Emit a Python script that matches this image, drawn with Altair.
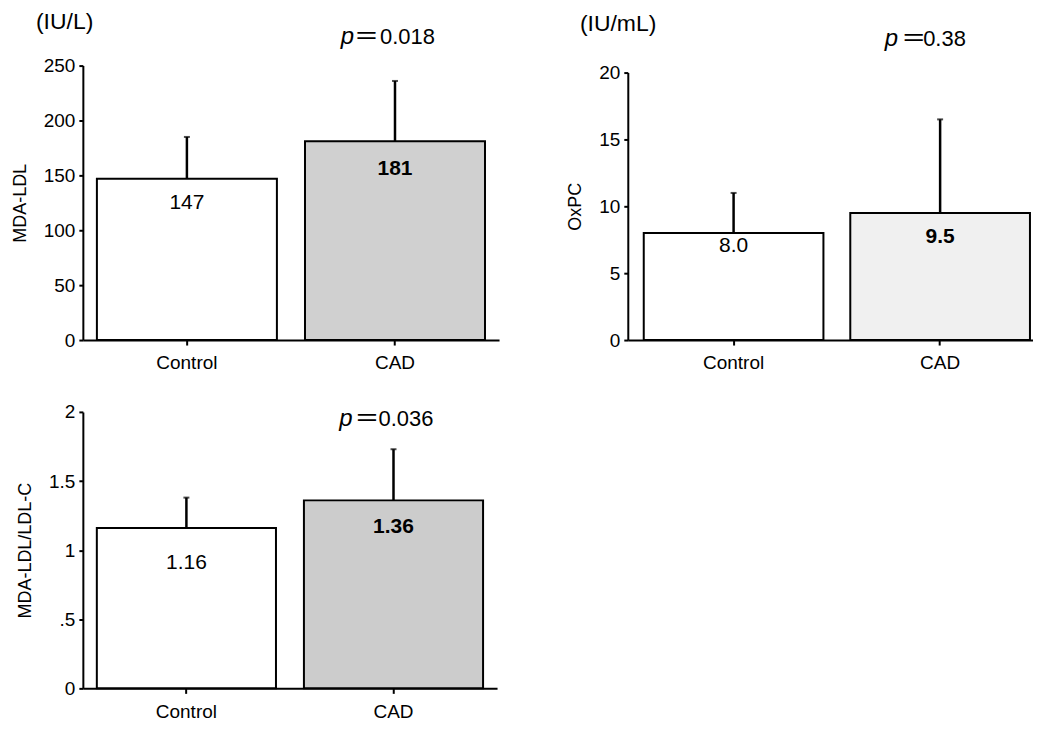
import altair as alt
import pandas as pd

groups = ["Control", "CAD"]
weights = ["normal", "bold"]

# Panel A: MDA-LDL (IU/L)
a_mean = [147, 181]
a_top = [185, 236]
a_label = ["147", "181"]
a_label_pos = [124.5, 156]
a_p_pos = 276
a_p_text = "0.018"

# Panel B: OxPC (IU/mL)
b_mean = [8.0, 9.5]
b_top = [11.0, 16.5]
b_label = ["8.0", "9.5"]
b_label_pos = [7.0, 7.7]
b_p_pos = 22.5
b_p_text = "0.38"

# Panel C: MDA-LDL/LDL-C
c_mean = [1.16, 1.36]
c_top = [1.38, 1.73]
c_label = ["1.16", "1.36"]
c_label_pos = [0.91, 1.17]
c_p_pos = 1.95
c_p_text = "0.036"

FONT = "Liberation Sans"
CJK = "Noto Sans CJK JP"


def panel(mean, top, labels, label_pos, ytitle, domain, ticks, cad_fill,
          p_pos, p_text, p_size, p_dx, width, height, yrange=None,
          title=None, title_dx=0, pin=0.135, pout=0.0675, palign=0.5):
    df = pd.DataFrame({
        "group": groups, "mean": mean, "top": top, "label": labels,
        "label_pos": label_pos, "weight": weights,
        "fill": ["#ffffff", cad_fill],
    })
    pdf = pd.DataFrame({"group": ["CAD"], "pos": [p_pos], "txt": [p_text]})
    x = alt.X("group:N", sort=groups,
              scale=alt.Scale(paddingInner=pin, paddingOuter=pout, align=palign),
              axis=alt.Axis(title=None, labelAngle=0, labelFontSize=19,
                            labelPadding=9, tickSize=5, ticks=True))
    yaxis = alt.Axis(values=ticks, title=ytitle, grid=False, tickSize=4,
                     labelFontSize=19, labelPadding=4, titlePadding=14,
                     titleFontSize=18, titleFontWeight="normal", titleFont=FONT,
                     labelExpr="datum.value == 0.5 ? '.5' : toString(datum.value)")
    if yrange:
        yscale = alt.Scale(domain=domain, nice=False, zero=True, range=yrange)
    else:
        yscale = alt.Scale(domain=domain, nice=False, zero=True)
    base = alt.Chart(df)
    bars = base.mark_bar(stroke="black", strokeWidth=2).encode(
        x=x, y=alt.Y("mean:Q", scale=yscale, axis=yaxis),
        fill=alt.Fill("fill:N", scale=None))
    err = base.mark_rule(color="black", strokeWidth=2.5).encode(
        x=x, y="mean:Q", y2="top:Q")
    cap = base.mark_tick(color="black", size=6, thickness=2).encode(
        x=x, y="top:Q")
    lab_n = base.transform_filter("datum.weight == 'normal'").mark_text(
        font=FONT, fontSize=21, color="black", baseline="middle").encode(
        x=x, y="label_pos:Q", text="label:N")
    lab_b = base.transform_filter("datum.weight == 'bold'").mark_text(
        font=FONT, fontSize=21, fontWeight="bold", color="black", baseline="middle").encode(
        x=x, y="label_pos:Q", text="label:N")
    pbase = alt.Chart(pdf)
    p_it = pbase.mark_text(font=FONT, fontSize=p_size + 2, fontStyle="italic",
                           align="right", baseline="middle", dx=p_dx[0], color="black").encode(
        x=alt.X("group:N", sort=groups), y="pos:Q", text=alt.value("p"))
    p_eq = pbase.mark_text(font=CJK, fontSize=p_size + 3, align="left",
                           baseline="middle", dx=p_dx[1], color="black").encode(
        x=alt.X("group:N", sort=groups), y="pos:Q", text=alt.value("＝"))
    p_val = pbase.mark_text(font=FONT, fontSize=p_size, align="left",
                            baseline="middle", dx=p_dx[2], color="black").encode(
        x=alt.X("group:N", sort=groups), y="pos:Q", text="txt:N")
    ch = alt.layer(bars, err, cap, lab_n, lab_b, p_it, p_eq, p_val).properties(
        width=width, height=height)
    if title:
        ch = ch.properties(title=alt.TitleParams(
            text=title, anchor="start", frame="group", dx=title_dx,
            fontSize=23, fontWeight="normal", font=FONT, color="black",
            baseline="bottom", offset=-32))
    return ch


A = panel(a_mean, a_top, a_label, a_label_pos, "MDA-LDL", [0, 250],
          [0, 50, 100, 150, 200, 250], "#d0d0d0", a_p_pos, a_p_text, 22,
          [-41, -41, -15], 417, 275, title="(IU/L)", title_dx=-47)
B = panel(b_mean, b_top, b_label, b_label_pos, "OxPC", [0, 20],
          [0, 5, 10, 15, 20], "#f0f0f0", b_p_pos, b_p_text, 22,
          [-42, -39, -17], 406, 275, yrange=[275, 7], title="(IU/mL)",
          title_dx=-48, pin=0.13, pout=0.046, palign=0.84)
C = panel(c_mean, c_top, c_label, c_label_pos, "MDA-LDL/LDL-C", [0, 2],
          [0, 0.5, 1, 1.5, 2], "#cccccc", c_p_pos, c_p_text, 22,
          [-41, -39, -15], 415, 277)

chart = alt.vconcat(
    alt.hconcat(A, B, spacing=67),
    C, spacing=30,
).properties(
    padding={"left": 3, "top": 2, "right": 0, "bottom": 0},
    background="white",
).configure_view(stroke="transparent", strokeWidth=0).configure_axis(
    labelFont=FONT, labelColor="black", domainColor="black", domainWidth=2,
    tickColor="black", tickWidth=2, titleColor="black"
)

chart.save("out.html", embed_options={"renderer": "svg", "actions": False})
